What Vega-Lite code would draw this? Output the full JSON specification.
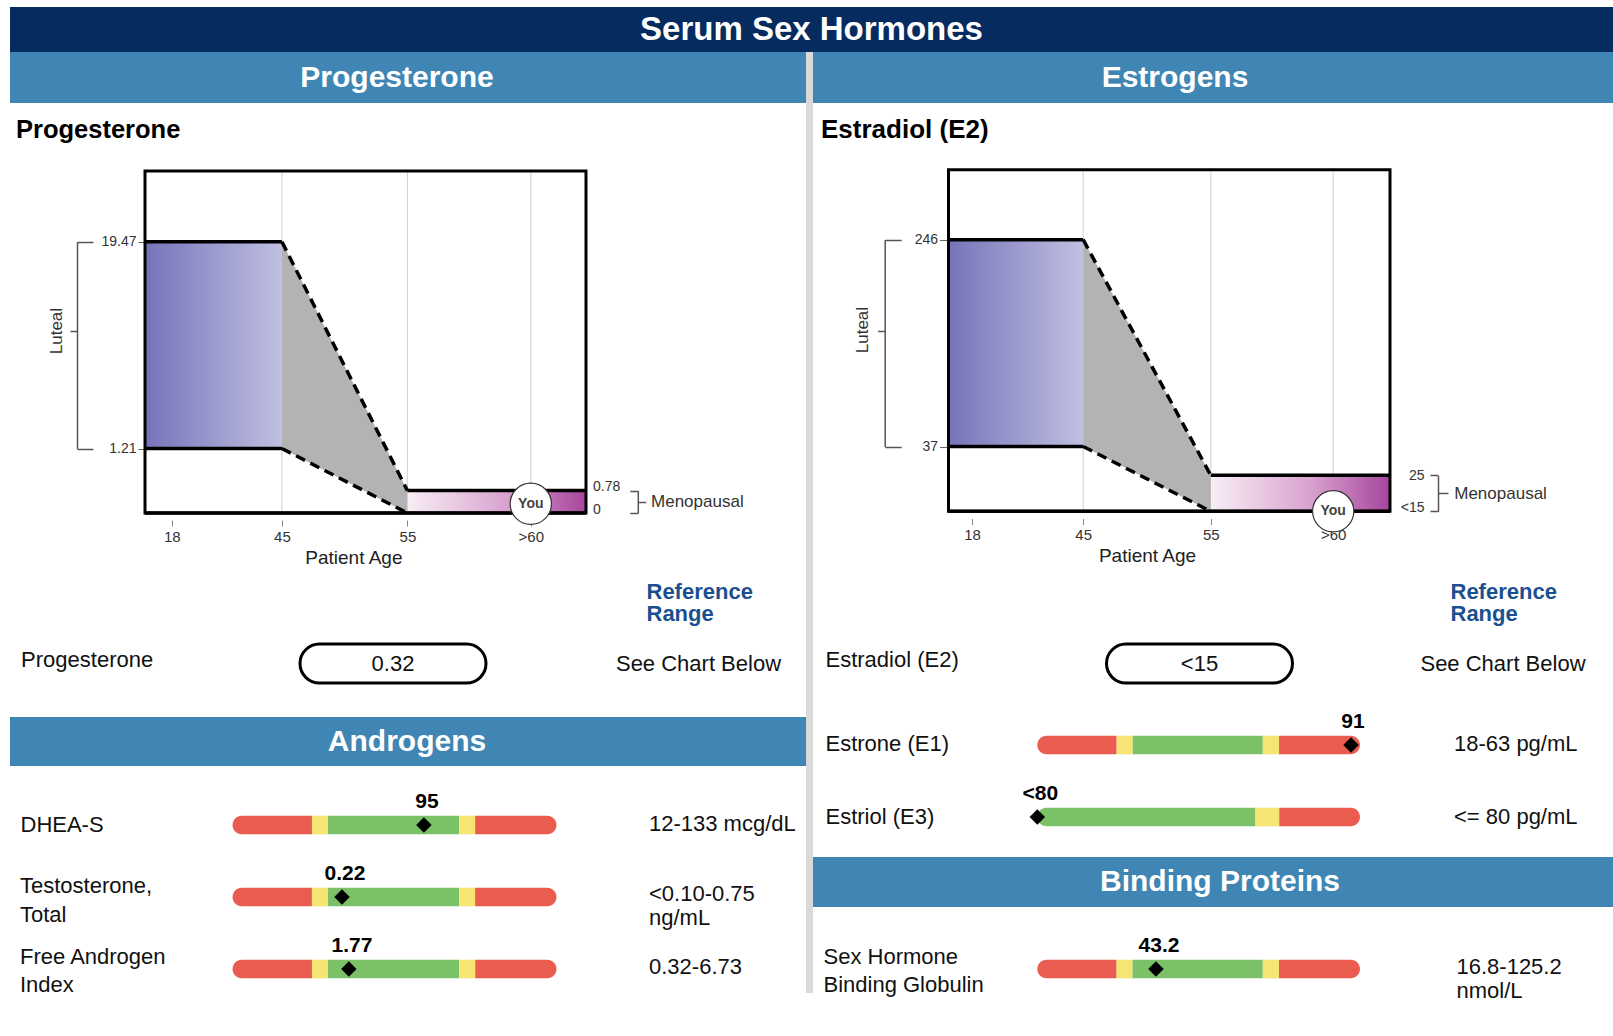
{
"$schema":"https://vega.github.io/schema/vega-lite/v6.json",
"background":"white",
"padding":{"left":10,"top":7,"right":0,"bottom":0},
"spacing":0,
"bounds":"flush",
"resolve":{"scale":{"x":"independent","y":"independent"}},
"config":{"view":{"stroke":null},"font":"Liberation Sans","text":{"font":"Liberation Sans"},"axis":{"labelFont":"Liberation Sans","titleFont":"Liberation Sans","grid":false},"title":{"font":"Liberation Sans"}},
"vconcat":[
{"width":1603,"height":45,"view":{"fill":"#062b5e","stroke":null},"data":{"values":[{"title":"Serum Sex Hormones"}]},"mark":{"type":"text","color":"#ffffff","fontSize":33,"fontWeight":"bold"},"encoding":{"text":{"field":"title"}}},
{"hconcat":[
{"vconcat":[
{"width":796,"height":51,"view":{"fill":"#3f86b4","stroke":null},"data":{"values":[{"section":"Progesterone"}]},"mark":{"type":"text","color":"#ffffff","fontSize":30,"fontWeight":"bold","dx":-11},"encoding":{"text":{"field":"section"}}},
{"width":796,"height":410,
"title":{"text":"Progesterone","anchor":"start","frame":"group","fontSize":25.5,"fontWeight":"bold","color":"#000000","baseline":"alphabetic","offset":-60.5,"dx":6},
"resolve":{"scale":{"y":"independent"},"axis":{"y":"independent"}},
"encoding":{"x":{"field":"age","type":"quantitative","scale":{"domain":[12,18,45,55,60,62.5],"range":[135,161.8,271.9,397.4,520.8,576],"zero":false,"nice":false},"axis":{"orient":"bottom","values":[18,45,55,60],"format":".4~g","labelExpr":"datum.value == 60 ? '>60' : datum.label","offset":7,"ticks":true,"tickSize":6,"tickColor":"#888888","labelPadding":3,"labelFontSize":15,"labelColor":"#333333","labelFlush":false,"labelOverlap":false,"domain":false,"grid":false,"title":"Patient Age","titleFontSize":19,"titleFontWeight":"normal","titleColor":"#222222","titlePadding":4,"titleX":343.4}}},
"layer":[
{"encoding":{
"y":{"field":"level","type":"quantitative","scale":{"domain":[0,0.78,1.21,19.47,25.7],"range":[410,387.6,345.5,138.7,68],"zero":false,"nice":false},"axis":{"orient":"left","offset":-135,"values":[1.21,19.47],"format":".4~g","ticks":true,"tickSize":7,"tickColor":"#666666","labelPadding":2,"labelFontSize":14,"labelColor":"#333333","labelFlush":false,"labelOverlap":false,"domain":false,"grid":false,"title":null}}},
"layer":[
{"data":{"values":[{"age":45,"level":0,"level2":25.7},{"age":55,"level":0,"level2":25.7},{"age":60,"level":0,"level2":25.7}]},"mark":{"type":"rule","color":"#d0d0d0","strokeWidth":1},"encoding":{"y2":{"field":"level2"}}},
{"data":{"values":[{"phase":"Luteal","age":12,"age2":45,"level":1.21,"level2":19.47}]},"mark":{"type":"rect","fill":{"gradient":"linear","x1":0,"y1":0,"x2":1,"y2":0,"stops":[{"offset":0,"color":"#7674b9"},{"offset":1,"color":"#c0c0e1"}]},"stroke":null},"encoding":{"x2":{"field":"age2"},"y2":{"field":"level2"}}},
{"data":{"values":[{"phase":"Menopausal","age":55,"age2":62.5,"level":0,"level2":0.78}]},"mark":{"type":"rect","fill":{"gradient":"linear","x1":0,"y1":0,"x2":1,"y2":0,"stops":[{"offset":0,"color":"#f8eef5"},{"offset":0.55,"color":"#d9a3cf"},{"offset":1,"color":"#a6459c"}]},"stroke":null},"encoding":{"x2":{"field":"age2"},"y2":{"field":"level2"}}},
{"data":{"values":[{"age":45,"level":19.47,"level2":1.21},{"age":55,"level":0.78,"level2":0}]},"mark":{"type":"area","color":"#b3b3b3","opacity":1},"encoding":{"y2":{"field":"level2"}}},
{"data":{"values":[{"age":12,"age2":62.5,"level":0,"level2":25.7}]},"mark":{"type":"rect","filled":false,"stroke":"#000000","strokeWidth":3},"encoding":{"x2":{"field":"age2"},"y2":{"field":"level2"}}},
{"data":{"values":[
{"edge":"luteal upper","kind":"phase limit","age":12,"level":19.47},{"edge":"luteal upper","kind":"phase limit","age":45,"level":19.47},
{"edge":"luteal lower","kind":"phase limit","age":12,"level":1.21},{"edge":"luteal lower","kind":"phase limit","age":45,"level":1.21},
{"edge":"transition upper","kind":"transition","age":45,"level":19.47},{"edge":"transition upper","kind":"transition","age":55,"level":0.78},
{"edge":"transition lower","kind":"transition","age":45,"level":1.21},{"edge":"transition lower","kind":"transition","age":55,"level":0},
{"edge":"menopausal upper","kind":"phase limit","age":55,"level":0.78},{"edge":"menopausal upper","kind":"phase limit","age":62.5,"level":0.78},
{"edge":"baseline","kind":"phase limit","age":12,"level":0},{"edge":"baseline","kind":"phase limit","age":62.5,"level":0}]},
"mark":{"type":"line","color":"#000000","strokeWidth":3.5},"encoding":{"detail":{"field":"edge"},"strokeDash":{"field":"kind","type":"nominal","scale":{"domain":["phase limit","transition"],"range":[[1,0],[10,6]]},"legend":null}}},
{"data":{"values":[{"age":60,"level":0.32,"label":"You"}]},"mark":{"type":"point","shape":"circle","filled":true,"fill":"#ffffff","stroke":"#333333","strokeWidth":1.2,"size":1700,"opacity":1}},
{"data":{"values":[{"age":60,"level":0.32,"label":"You"}]},"mark":{"type":"text","fontSize":14,"fontWeight":"bold","color":"#444444"},"encoding":{"text":{"field":"label"}}}
]},
{"data":{"values":[{"age":60,"level":0},{"age":60,"level":0.78}]},"mark":{"type":"point","opacity":0},"encoding":{"y":{"field":"level","type":"quantitative","scale":{"domain":[0,0.78,1.21,19.47,25.7],"range":[410,387.6,345.5,138.7,68],"zero":false,"nice":false},"axis":{"orient":"right","offset":-220,"values":[0,0.78],"format":".4~g","ticks":false,"tickSize":0,"domain":false,"grid":false,"labelPadding":6.5,"labelAlign":"left","labelBaseline":"alphabetic","labelFontSize":14,"labelColor":"#333333","labelFlush":false,"labelOverlap":false,"title":null}}}},
{"data":{"values":[{"age":60,"level":1.21},{"age":60,"level":19.47}]},"mark":{"type":"point","opacity":0},"encoding":{"y":{"field":"level","type":"quantitative","scale":{"domain":[1.21,19.47],"range":[345.5,138.7],"zero":false,"nice":false},"axis":{"orient":"left","offset":-67,"values":[1.21,19.47],"labels":false,"domain":true,"domainColor":"#555555","domainWidth":1.5,"ticks":true,"tickSize":-16,"tickWidth":1.5,"tickColor":"#555555","grid":false,"title":"Luteal","titleFontSize":17,"titleFontWeight":"normal","titleColor":"#333333","titlePadding":11,"titleY":227.6}}}},
{"data":{"values":[{"age":60,"level":11.6}]},"mark":{"type":"point","opacity":0},"encoding":{"y":{"field":"level","type":"quantitative","scale":{"domain":[1.21,19.47],"range":[345.5,138.7],"zero":false,"nice":false},"axis":{"orient":"left","offset":-67,"values":[11.6],"labels":false,"domain":false,"ticks":true,"tickSize":7,"tickWidth":1.5,"tickColor":"#555555","grid":false,"title":null}}}},
{"data":{"values":[{"age":60,"level":0},{"age":60,"level":0.78}]},"mark":{"type":"point","opacity":0},"encoding":{"y":{"field":"level","type":"quantitative","scale":{"domain":[0,0.78],"range":[410,387.6],"zero":false,"nice":false},"axis":{"orient":"right","offset":-168.2,"values":[0,0.78],"labels":false,"domain":true,"domainColor":"#555555","domainWidth":1.5,"ticks":true,"tickSize":-8,"tickWidth":1.5,"tickColor":"#555555","grid":false,"title":"Menopausal","titleAngle":0,"titleAlign":"left","titleBaseline":"middle","titlePadding":12,"titleFontSize":17,"titleFontWeight":"normal","titleColor":"#333333"}}}},
{"data":{"values":[{"age":60,"level":0.39}]},"mark":{"type":"point","opacity":0},"encoding":{"y":{"field":"level","type":"quantitative","scale":{"domain":[0,0.78],"range":[410,387.6],"zero":false,"nice":false},"axis":{"orient":"right","offset":-168.2,"values":[0.39],"labels":false,"domain":false,"ticks":true,"tickSize":8,"tickWidth":1.5,"tickColor":"#555555","grid":false,"title":null}}}}
]},
{"width":796,"height":204,
"data":{"values":[{"test":"Progesterone","column":"Result","text":"0.32"},{"test":"Progesterone","column":"Reference Range","text":"See Chart Below"}]},
"encoding":{
"x":{"field":"column","type":"nominal","scale":{"type":"point","domain":["Result","Reference Range"],"range":[383,688.5],"padding":0},"axis":{"orient":"top","labelExpr":"datum.value == 'Reference Range' ? ['Reference', 'Range'] : ''","labelAngle":0,"labelAlign":"left","labelOffset":-52.5,"labelBaseline":"middle","labelPadding":-78,"ticks":false,"tickSize":0,"domain":false,"grid":false,"title":null,"labelFontSize":22,"labelFontWeight":"bold","labelColor":"#1c4f8f","labelLineHeight":22,"labelLimit":0,"labelOverlap":false}},
"y":{"field":"test","type":"nominal","scale":{"type":"point","align":0.738},"axis":{"orient":"left","labelAlign":"left","labelPadding":-10.6,"ticks":false,"tickSize":0,"domain":false,"grid":false,"title":null,"labelFontSize":22,"labelColor":"#111111","labelLimit":0,"labelBaseline":"middle","labelOffset":-4}}},
"layer":[
{"transform":[{"filter":"datum.column == 'Result'"}],"mark":{"type":"point","shape":"M -0.7903 -0.2097 L 0.7903 -0.2097 A 0.2097 0.2097 0 0 1 0.7903 0.2097 L -0.7903 0.2097 A 0.2097 0.2097 0 0 1 -0.7903 -0.2097 Z","size":34596,"filled":false,"stroke":"#000000","strokeWidth":3,"opacity":1}},
{"mark":{"type":"text","fontSize":22,"color":"#111111"},"encoding":{"text":{"field":"text"}}}
]},
{"width":796,"height":49,"view":{"fill":"#3f86b4","stroke":null},"data":{"values":[{"section":"Androgens"}]},"mark":{"type":"text","color":"#ffffff","fontSize":30,"fontWeight":"bold","dx":-1},"encoding":{"text":{"field":"section"}}},
{"width":796,"height":95,"resolve":{"scale":{"y":"independent"},"axis":{"y":"independent"}},
"layer":[
{"data":{"values":[{"test":"DHEA-S","zone":"out of range","from":-46.9,"to":12},{"test":"DHEA-S","zone":"borderline","from":12,"to":23.9},{"test":"DHEA-S","zone":"in range","from":23.9,"to":121.1},{"test":"DHEA-S","zone":"borderline","from":121.1,"to":133},{"test":"DHEA-S","zone":"out of range","from":133,"to":193.3}]},
"transform":[{"joinaggregate":[{"op":"min","field":"from","as":"lo"},{"op":"max","field":"to","as":"hi"}]}],
"encoding":{"x":{"field":"from","type":"quantitative","scale":{"domain":[-46.9,193.3],"range":[222.5,546.5],"clamp":true,"zero":false,"nice":false},"axis":null},"x2":{"field":"to"},
"y":{"field":"test","type":"nominal","scale":{"type":"point","align":0.621},"axis":{"orient":"left","labelAlign":"left","labelPadding":-10,"ticks":false,"tickSize":0,"domain":false,"grid":false,"title":null,"labelFontSize":22,"labelColor":"#111111","labelLimit":0,"labelExpr":"split(datum.label, '\\n')","labelLineHeight":28,"labelBaseline":"middle"}},
"color":{"field":"zone","type":"nominal","scale":{"domain":["out of range","borderline","in range"],"range":["#ea5c50","#f6e473","#7bc168"]},"legend":null}},
"layer":[
{"transform":[{"filter":"datum.from > datum.lo && datum.to < datum.hi"}],"mark":{"type":"bar","orient":"horizontal","size":18.6}},
{"transform":[{"filter":"datum.from == datum.lo"}],"mark":{"type":"bar","orient":"horizontal","size":18.6,"cornerRadiusTopLeft":9.3,"cornerRadiusBottomLeft":9.3}},
{"transform":[{"filter":"datum.to == datum.hi"}],"mark":{"type":"bar","orient":"horizontal","size":18.6,"cornerRadiusTopRight":9.3,"cornerRadiusBottomRight":9.3}}
]},
{"data":{"values":[{"test":"DHEA-S","value":95,"label":"95"}]},
"encoding":{"x":{"field":"value","type":"quantitative","scale":{"domain":[-46.9,193.3],"range":[222.5,546.5],"clamp":true,"zero":false,"nice":false},"axis":null},"y":{"field":"test","type":"nominal","scale":{"type":"point","align":0.621},"axis":null}},
"layer":[
{"mark":{"type":"point","shape":"diamond","filled":true,"color":"#000000","size":240,"opacity":1}},
{"mark":{"type":"text","fontSize":21,"fontWeight":"bold","color":"#000000","baseline":"alphabetic","dy":-16.7,"dx":3},"encoding":{"text":{"field":"label"}}}
]},
{"data":{"values":[{"test":"DHEA-S","value":95,"reference":"12-133 mcg/dL"}]},"mark":{"type":"point","opacity":0},
"encoding":{"x":{"field":"value","type":"quantitative","scale":{"domain":[-46.9,193.3],"range":[222.5,546.5],"clamp":true,"zero":false,"nice":false},"axis":null},"y":{"field":"reference","type":"nominal","scale":{"type":"point","align":0.621},"axis":{"orient":"right","labelAlign":"left","labelPadding":-157.5,"ticks":false,"tickSize":0,"domain":false,"grid":false,"title":null,"labelFontSize":22,"labelColor":"#111111","labelLimit":0,"labelExpr":"split(datum.label, '\\n')","labelLineHeight":24.7,"labelBaseline":"middle","labelOffset":-1}}}}
]},
{"width":796,"height":72,"resolve":{"scale":{"y":"independent"},"axis":{"y":"independent"}},
"layer":[
{"data":{"values":[{"test":"Testosterone,\nTotal","zone":"out of range","from":-0.216,"to":0.10},{"test":"Testosterone,\nTotal","zone":"borderline","from":0.10,"to":0.164},{"test":"Testosterone,\nTotal","zone":"in range","from":0.164,"to":0.686},{"test":"Testosterone,\nTotal","zone":"borderline","from":0.686,"to":0.75},{"test":"Testosterone,\nTotal","zone":"out of range","from":0.75,"to":1.074}]},
"transform":[{"joinaggregate":[{"op":"min","field":"from","as":"lo"},{"op":"max","field":"to","as":"hi"}]}],
"encoding":{"x":{"field":"from","type":"quantitative","scale":{"domain":[-0.216,1.074],"range":[222.5,546.5],"clamp":true,"zero":false,"nice":false},"axis":null},"x2":{"field":"to"},
"y":{"field":"test","type":"nominal","scale":{"type":"point","align":0.5},"axis":{"orient":"left","labelAlign":"left","labelPadding":-9.5,"ticks":false,"tickSize":0,"domain":false,"grid":false,"title":null,"labelFontSize":22,"labelColor":"#111111","labelLimit":0,"labelExpr":"split(datum.label, '\\n')","labelLineHeight":28.5,"labelBaseline":"middle","labelOffset":-11.5}},
"color":{"field":"zone","type":"nominal","scale":{"domain":["out of range","borderline","in range"],"range":["#ea5c50","#f6e473","#7bc168"]},"legend":null}},
"layer":[
{"transform":[{"filter":"datum.from > datum.lo && datum.to < datum.hi"}],"mark":{"type":"bar","orient":"horizontal","size":18.6}},
{"transform":[{"filter":"datum.from == datum.lo"}],"mark":{"type":"bar","orient":"horizontal","size":18.6,"cornerRadiusTopLeft":9.3,"cornerRadiusBottomLeft":9.3}},
{"transform":[{"filter":"datum.to == datum.hi"}],"mark":{"type":"bar","orient":"horizontal","size":18.6,"cornerRadiusTopRight":9.3,"cornerRadiusBottomRight":9.3}}
]},
{"data":{"values":[{"test":"Testosterone,\nTotal","value":0.22,"label":"0.22"}]},
"encoding":{"x":{"field":"value","type":"quantitative","scale":{"domain":[-0.216,1.074],"range":[222.5,546.5],"clamp":true,"zero":false,"nice":false},"axis":null},"y":{"field":"test","type":"nominal","scale":{"type":"point","align":0.5},"axis":null}},
"layer":[
{"mark":{"type":"point","shape":"diamond","filled":true,"color":"#000000","size":240,"opacity":1}},
{"mark":{"type":"text","fontSize":21,"fontWeight":"bold","color":"#000000","baseline":"alphabetic","dy":-16.7,"dx":3},"encoding":{"text":{"field":"label"}}}
]},
{"data":{"values":[{"test":"Testosterone,\nTotal","value":0.22,"reference":"<0.10-0.75\nng/mL"}]},"mark":{"type":"point","opacity":0},
"encoding":{"x":{"field":"value","type":"quantitative","scale":{"domain":[-0.216,1.074],"range":[222.5,546.5],"clamp":true,"zero":false,"nice":false},"axis":null},"y":{"field":"reference","type":"nominal","scale":{"type":"point","align":0.5},"axis":{"orient":"right","labelAlign":"left","labelPadding":-157.5,"ticks":false,"tickSize":0,"domain":false,"grid":false,"title":null,"labelFontSize":22,"labelColor":"#111111","labelLimit":0,"labelExpr":"split(datum.label, '\\n')","labelLineHeight":24.7,"labelBaseline":"middle","labelOffset":-4}}}}
]},
{"width":796,"height":72,"resolve":{"scale":{"y":"independent"},"axis":{"y":"independent"}},
"layer":[
{"data":{"values":[{"test":"Free Androgen\nIndex","zone":"out of range","from":-2.80,"to":0.32},{"test":"Free Androgen\nIndex","zone":"borderline","from":0.32,"to":0.949},{"test":"Free Androgen\nIndex","zone":"in range","from":0.949,"to":6.10},{"test":"Free Androgen\nIndex","zone":"borderline","from":6.10,"to":6.73},{"test":"Free Androgen\nIndex","zone":"out of range","from":6.73,"to":9.92}]},
"transform":[{"joinaggregate":[{"op":"min","field":"from","as":"lo"},{"op":"max","field":"to","as":"hi"}]}],
"encoding":{"x":{"field":"from","type":"quantitative","scale":{"domain":[-2.80,9.92],"range":[222.5,546.5],"clamp":true,"zero":false,"nice":false},"axis":null},"x2":{"field":"to"},
"y":{"field":"test","type":"nominal","scale":{"type":"point","align":0.5},"axis":{"orient":"left","labelAlign":"left","labelPadding":-9.5,"ticks":false,"tickSize":0,"domain":false,"grid":false,"title":null,"labelFontSize":22,"labelColor":"#111111","labelLimit":0,"labelExpr":"split(datum.label, '\\n')","labelLineHeight":28.5,"labelBaseline":"middle","labelOffset":-13}},
"color":{"field":"zone","type":"nominal","scale":{"domain":["out of range","borderline","in range"],"range":["#ea5c50","#f6e473","#7bc168"]},"legend":null}},
"layer":[
{"transform":[{"filter":"datum.from > datum.lo && datum.to < datum.hi"}],"mark":{"type":"bar","orient":"horizontal","size":18.6}},
{"transform":[{"filter":"datum.from == datum.lo"}],"mark":{"type":"bar","orient":"horizontal","size":18.6,"cornerRadiusTopLeft":9.3,"cornerRadiusBottomLeft":9.3}},
{"transform":[{"filter":"datum.to == datum.hi"}],"mark":{"type":"bar","orient":"horizontal","size":18.6,"cornerRadiusTopRight":9.3,"cornerRadiusBottomRight":9.3}}
]},
{"data":{"values":[{"test":"Free Androgen\nIndex","value":1.77,"label":"1.77"}]},
"encoding":{"x":{"field":"value","type":"quantitative","scale":{"domain":[-2.80,9.92],"range":[222.5,546.5],"clamp":true,"zero":false,"nice":false},"axis":null},"y":{"field":"test","type":"nominal","scale":{"type":"point","align":0.5},"axis":null}},
"layer":[
{"mark":{"type":"point","shape":"diamond","filled":true,"color":"#000000","size":240,"opacity":1}},
{"mark":{"type":"text","fontSize":21,"fontWeight":"bold","color":"#000000","baseline":"alphabetic","dy":-16.7,"dx":3},"encoding":{"text":{"field":"label"}}}
]},
{"data":{"values":[{"test":"Free Androgen\nIndex","value":1.77,"reference":"0.32-6.73"}]},"mark":{"type":"point","opacity":0},
"encoding":{"x":{"field":"value","type":"quantitative","scale":{"domain":[-2.80,9.92],"range":[222.5,546.5],"clamp":true,"zero":false,"nice":false},"axis":null},"y":{"field":"reference","type":"nominal","scale":{"type":"point","align":0.5},"axis":{"orient":"right","labelAlign":"left","labelPadding":-157.5,"ticks":false,"tickSize":0,"domain":false,"grid":false,"title":null,"labelFontSize":22,"labelColor":"#111111","labelLimit":0,"labelExpr":"split(datum.label, '\\n')","labelLineHeight":24.7,"labelBaseline":"middle","labelOffset":-3}}}}
]}
],"spacing":0,"bounds":"flush","resolve":{"scale":{"x":"independent","y":"independent"}}},
{"width":7,"height":941,"view":{"fill":"#dadada","stroke":null},"data":{"values":[{"part":"column divider"}]},"mark":{"type":"rect","color":"#dadada"},"encoding":{}},
{"vconcat":[
{"width":800,"height":51,"view":{"fill":"#3f86b4","stroke":null},"data":{"values":[{"section":"Estrogens"}]},"mark":{"type":"text","color":"#ffffff","fontSize":30,"fontWeight":"bold","dx":-38},"encoding":{"text":{"field":"section"}}},
{"width":800,"height":410,
"title":{"text":"Estradiol (E2)","anchor":"start","frame":"group","fontSize":26,"fontWeight":"bold","color":"#000000","baseline":"alphabetic","offset":-60.5,"dx":8},
"resolve":{"scale":{"y":"independent"},"axis":{"y":"independent"}},
"encoding":{"x":{"field":"age","type":"quantitative","scale":{"domain":[12,18,45,55,60,62.5],"range":[135.5,159.1,270.2,397.8,520.2,577],"zero":false,"nice":false},"axis":{"orient":"bottom","values":[18,45,55,60],"format":".4~g","labelExpr":"datum.value == 60 ? '>60' : datum.label","offset":5.5,"ticks":true,"tickSize":6,"tickColor":"#888888","labelPadding":3,"labelFontSize":15,"labelColor":"#333333","labelFlush":false,"labelOverlap":false,"domain":false,"grid":false,"title":"Patient Age","titleFontSize":19,"titleFontWeight":"normal","titleColor":"#222222","titlePadding":4,"titleX":334}}},
"layer":[
{"encoding":{
"y":{"field":"level","type":"quantitative","scale":{"domain":[15,25,37,246,317],"range":[408.3,372.3,343.5,136.7,66.7],"zero":false,"nice":false},"axis":{"orient":"left","offset":-135.5,"values":[37,246],"format":".4~g","ticks":true,"tickSize":9,"tickColor":"#666666","labelPadding":2,"labelFontSize":14,"labelColor":"#333333","labelFlush":false,"labelOverlap":false,"domain":false,"grid":false,"title":null}}},
"layer":[
{"data":{"values":[{"age":45,"level":15,"level2":317},{"age":55,"level":15,"level2":317},{"age":60,"level":15,"level2":317}]},"mark":{"type":"rule","color":"#d0d0d0","strokeWidth":1},"encoding":{"y2":{"field":"level2"}}},
{"data":{"values":[{"phase":"Luteal","age":12,"age2":45,"level":37,"level2":246}]},"mark":{"type":"rect","fill":{"gradient":"linear","x1":0,"y1":0,"x2":1,"y2":0,"stops":[{"offset":0,"color":"#7674b9"},{"offset":1,"color":"#c0c0e1"}]},"stroke":null},"encoding":{"x2":{"field":"age2"},"y2":{"field":"level2"}}},
{"data":{"values":[{"phase":"Menopausal","age":55,"age2":62.5,"level":15,"level2":25}]},"mark":{"type":"rect","fill":{"gradient":"linear","x1":0,"y1":0,"x2":1,"y2":0,"stops":[{"offset":0,"color":"#f8eef5"},{"offset":0.55,"color":"#d9a3cf"},{"offset":1,"color":"#a6459c"}]},"stroke":null},"encoding":{"x2":{"field":"age2"},"y2":{"field":"level2"}}},
{"data":{"values":[{"age":45,"level":246,"level2":37},{"age":55,"level":25,"level2":15}]},"mark":{"type":"area","color":"#b3b3b3","opacity":1},"encoding":{"y2":{"field":"level2"}}},
{"data":{"values":[{"age":12,"age2":62.5,"level":15,"level2":317}]},"mark":{"type":"rect","filled":false,"stroke":"#000000","strokeWidth":3},"encoding":{"x2":{"field":"age2"},"y2":{"field":"level2"}}},
{"data":{"values":[
{"edge":"luteal upper","kind":"phase limit","age":12,"level":246},{"edge":"luteal upper","kind":"phase limit","age":45,"level":246},
{"edge":"luteal lower","kind":"phase limit","age":12,"level":37},{"edge":"luteal lower","kind":"phase limit","age":45,"level":37},
{"edge":"transition upper","kind":"transition","age":45,"level":246},{"edge":"transition upper","kind":"transition","age":55,"level":25},
{"edge":"transition lower","kind":"transition","age":45,"level":37},{"edge":"transition lower","kind":"transition","age":55,"level":15},
{"edge":"menopausal upper","kind":"phase limit","age":55,"level":25},{"edge":"menopausal upper","kind":"phase limit","age":62.5,"level":25},
{"edge":"baseline","kind":"phase limit","age":12,"level":15},{"edge":"baseline","kind":"phase limit","age":62.5,"level":15}]},
"mark":{"type":"line","color":"#000000","strokeWidth":3.5},"encoding":{"detail":{"field":"edge"},"strokeDash":{"field":"kind","type":"nominal","scale":{"domain":["phase limit","transition"],"range":[[1,0],[10,6]]},"legend":null}}},
{"data":{"values":[{"age":60,"level":15,"label":"You"}]},"mark":{"type":"point","shape":"circle","filled":true,"fill":"#ffffff","stroke":"#333333","strokeWidth":1.2,"size":1700,"opacity":1}},
{"data":{"values":[{"age":60,"level":15,"label":"You"}]},"mark":{"type":"text","fontSize":14,"fontWeight":"bold","color":"#444444"},"encoding":{"text":{"field":"label"}}}
]},
{"data":{"values":[{"age":60,"level":15},{"age":60,"level":25}]},"mark":{"type":"point","opacity":0},"encoding":{"y":{"field":"level","type":"quantitative","scale":{"domain":[15,25,37,246,317],"range":[408.3,372.3,343.5,136.7,66.7],"zero":false,"nice":false},"axis":{"orient":"right","offset":-223,"values":[15,25],"format":".4~g","labelExpr":"datum.value == 15 ? '<15' : datum.label","ticks":false,"tickSize":0,"domain":false,"grid":false,"labelPadding":34,"labelAlign":"right","labelBaseline":"middle","labelOffset":{"condition":{"test":"datum.value == 15","value":-4},"value":0},"labelFontSize":14,"labelColor":"#333333","labelFlush":false,"labelOverlap":false,"title":null}}}},
{"data":{"values":[{"age":60,"level":37},{"age":60,"level":246}]},"mark":{"type":"point","opacity":0},"encoding":{"y":{"field":"level","type":"quantitative","scale":{"domain":[37,246],"range":[343.5,136.7],"zero":false,"nice":false},"axis":{"orient":"left","offset":-71.7,"values":[37,246],"labels":false,"domain":true,"domainColor":"#555555","domainWidth":1.5,"ticks":true,"tickSize":-16.5,"tickWidth":1.5,"tickColor":"#555555","grid":false,"title":"Luteal","titleFontSize":17,"titleFontWeight":"normal","titleColor":"#333333","titlePadding":12,"titleY":226.6}}}},
{"data":{"values":[{"age":60,"level":153.6}]},"mark":{"type":"point","opacity":0},"encoding":{"y":{"field":"level","type":"quantitative","scale":{"domain":[37,246],"range":[343.5,136.7],"zero":false,"nice":false},"axis":{"orient":"left","offset":-71.7,"values":[153.6],"labels":false,"domain":false,"ticks":true,"tickSize":7,"tickWidth":1.5,"tickColor":"#555555","grid":false,"title":null}}}},
{"data":{"values":[{"age":60,"level":15},{"age":60,"level":25}]},"mark":{"type":"point","opacity":0},"encoding":{"y":{"field":"level","type":"quantitative","scale":{"domain":[15,25],"range":[408.3,372.3],"zero":false,"nice":false},"axis":{"orient":"right","offset":-175,"values":[15,25],"labels":false,"domain":true,"domainColor":"#555555","domainWidth":1.5,"ticks":true,"tickSize":-8,"tickWidth":1.5,"tickColor":"#555555","grid":false,"title":"Menopausal","titleAngle":0,"titleAlign":"left","titleBaseline":"middle","titlePadding":15,"titleFontSize":17,"titleFontWeight":"normal","titleColor":"#333333"}}}},
{"data":{"values":[{"age":60,"level":20}]},"mark":{"type":"point","opacity":0},"encoding":{"y":{"field":"level","type":"quantitative","scale":{"domain":[15,25],"range":[408.3,372.3],"zero":false,"nice":false},"axis":{"orient":"right","offset":-175,"values":[20],"labels":false,"domain":false,"ticks":true,"tickSize":10,"tickWidth":1.5,"tickColor":"#555555","grid":false,"title":null}}}}
]},
{"width":800,"height":196,
"data":{"values":[{"test":"Estradiol (E2)","column":"Result","text":"<15"},{"test":"Estradiol (E2)","column":"Reference Range","text":"See Chart Below"}]},
"encoding":{
"x":{"field":"column","type":"nominal","scale":{"type":"point","domain":["Result","Reference Range"],"range":[386.5,690],"padding":0},"axis":{"orient":"top","labelExpr":"datum.value == 'Reference Range' ? ['Reference', 'Range'] : ''","labelAngle":0,"labelAlign":"left","labelOffset":-53,"labelBaseline":"middle","labelPadding":-78,"ticks":false,"tickSize":0,"domain":false,"grid":false,"title":null,"labelFontSize":22,"labelFontWeight":"bold","labelColor":"#1c4f8f","labelLineHeight":22,"labelLimit":0,"labelOverlap":false}},
"y":{"field":"test","type":"nominal","scale":{"type":"point","align":0.768},"axis":{"orient":"left","labelAlign":"left","labelPadding":-12,"ticks":false,"tickSize":0,"domain":false,"grid":false,"title":null,"labelFontSize":22,"labelColor":"#111111","labelLimit":0,"labelBaseline":"middle","labelOffset":-4}}},
"layer":[
{"transform":[{"filter":"datum.column == 'Result'"}],"mark":{"type":"point","shape":"M -0.7903 -0.2097 L 0.7903 -0.2097 A 0.2097 0.2097 0 0 1 0.7903 0.2097 L -0.7903 0.2097 A 0.2097 0.2097 0 0 1 -0.7903 -0.2097 Z","size":34596,"filled":false,"stroke":"#000000","strokeWidth":3,"opacity":1}},
{"mark":{"type":"text","fontSize":22,"color":"#111111"},"encoding":{"text":{"field":"text"}}}
]},
{"width":800,"height":72,"resolve":{"scale":{"y":"independent"},"axis":{"y":"independent"}},
"layer":[
{"data":{"values":[{"test":"Estrone (E1)","zone":"out of range","from":-3.9,"to":18},{"test":"Estrone (E1)","zone":"borderline","from":18,"to":22.5},{"test":"Estrone (E1)","zone":"in range","from":22.5,"to":58.5},{"test":"Estrone (E1)","zone":"borderline","from":58.5,"to":63},{"test":"Estrone (E1)","zone":"out of range","from":63,"to":85.4}]},
"transform":[{"joinaggregate":[{"op":"min","field":"from","as":"lo"},{"op":"max","field":"to","as":"hi"}]}],
"encoding":{"x":{"field":"from","type":"quantitative","scale":{"domain":[-3.9,85.4],"range":[224.3,547],"clamp":true,"zero":false,"nice":false},"axis":null},"x2":{"field":"to"},
"y":{"field":"test","type":"nominal","scale":{"type":"point","align":0.5},"axis":{"orient":"left","labelAlign":"left","labelPadding":-12,"ticks":false,"tickSize":0,"domain":false,"grid":false,"title":null,"labelFontSize":22,"labelColor":"#111111","labelLimit":0,"labelExpr":"split(datum.label, '\\n')","labelLineHeight":28,"labelBaseline":"middle","labelOffset":-2}},
"color":{"field":"zone","type":"nominal","scale":{"domain":["out of range","borderline","in range"],"range":["#ea5c50","#f6e473","#7bc168"]},"legend":null}},
"layer":[
{"transform":[{"filter":"datum.from > datum.lo && datum.to < datum.hi"}],"mark":{"type":"bar","orient":"horizontal","size":18.6}},
{"transform":[{"filter":"datum.from == datum.lo"}],"mark":{"type":"bar","orient":"horizontal","size":18.6,"cornerRadiusTopLeft":9.3,"cornerRadiusBottomLeft":9.3}},
{"transform":[{"filter":"datum.to == datum.hi"}],"mark":{"type":"bar","orient":"horizontal","size":18.6,"cornerRadiusTopRight":9.3,"cornerRadiusBottomRight":9.3}}
]},
{"data":{"values":[{"test":"Estrone (E1)","value":91,"label":"91"}]},
"encoding":{"x":{"field":"value","type":"quantitative","scale":{"domain":[-3.9,85.4],"range":[224.3,547],"clamp":true,"zero":false,"nice":false},"axis":null},"y":{"field":"test","type":"nominal","scale":{"type":"point","align":0.5},"axis":null}},
"layer":[
{"mark":{"type":"point","shape":"diamond","filled":true,"color":"#000000","size":240,"opacity":1,"xOffset":-9}},
{"mark":{"type":"text","fontSize":21,"fontWeight":"bold","color":"#000000","baseline":"alphabetic","dy":-16.7,"dx":-7},"encoding":{"text":{"field":"label"}}}
]},
{"data":{"values":[{"test":"Estrone (E1)","value":91,"reference":"18-63 pg/mL"}]},"mark":{"type":"point","opacity":0},
"encoding":{"x":{"field":"value","type":"quantitative","scale":{"domain":[-3.9,85.4],"range":[224.3,547],"clamp":true,"zero":false,"nice":false},"axis":null},"y":{"field":"reference","type":"nominal","scale":{"type":"point","align":0.5},"axis":{"orient":"right","labelAlign":"left","labelPadding":-159.5,"ticks":false,"tickSize":0,"domain":false,"grid":false,"title":null,"labelFontSize":22,"labelColor":"#111111","labelLimit":0,"labelExpr":"split(datum.label, '\\n')","labelLineHeight":24.7,"labelBaseline":"middle","labelOffset":-2}}}}
]},
{"width":800,"height":76,"resolve":{"scale":{"y":"independent"},"axis":{"y":"independent"}},
"layer":[
{"data":{"values":[{"test":"Estriol (E3)","zone":"in range","from":0,"to":72},{"test":"Estriol (E3)","zone":"borderline","from":72,"to":80},{"test":"Estriol (E3)","zone":"out of range","from":80,"to":106.7}]},
"transform":[{"joinaggregate":[{"op":"min","field":"from","as":"lo"},{"op":"max","field":"to","as":"hi"}]}],
"encoding":{"x":{"field":"from","type":"quantitative","scale":{"domain":[0,106.7],"range":[224.3,547],"clamp":true,"zero":false,"nice":false},"axis":null},"x2":{"field":"to"},
"y":{"field":"test","type":"nominal","scale":{"type":"point","align":0.474},"axis":{"orient":"left","labelAlign":"left","labelPadding":-12,"ticks":false,"tickSize":0,"domain":false,"grid":false,"title":null,"labelFontSize":22,"labelColor":"#111111","labelLimit":0,"labelExpr":"split(datum.label, '\\n')","labelLineHeight":28,"labelBaseline":"middle","labelOffset":-1}},
"color":{"field":"zone","type":"nominal","scale":{"domain":["out of range","borderline","in range"],"range":["#ea5c50","#f6e473","#7bc168"]},"legend":null}},
"layer":[
{"transform":[{"filter":"datum.from > datum.lo && datum.to < datum.hi"}],"mark":{"type":"bar","orient":"horizontal","size":18.6}},
{"transform":[{"filter":"datum.from == datum.lo"}],"mark":{"type":"bar","orient":"horizontal","size":18.6,"cornerRadiusTopLeft":9.3,"cornerRadiusBottomLeft":9.3}},
{"transform":[{"filter":"datum.to == datum.hi"}],"mark":{"type":"bar","orient":"horizontal","size":18.6,"cornerRadiusTopRight":9.3,"cornerRadiusBottomRight":9.3}}
]},
{"data":{"values":[{"test":"Estriol (E3)","value":0,"label":"<80"}]},
"encoding":{"x":{"field":"value","type":"quantitative","scale":{"domain":[0,106.7],"range":[224.3,547],"clamp":true,"zero":false,"nice":false},"axis":null},"y":{"field":"test","type":"nominal","scale":{"type":"point","align":0.474},"axis":null}},
"layer":[
{"mark":{"type":"point","shape":"diamond","filled":true,"color":"#000000","size":240,"opacity":1}},
{"mark":{"type":"text","fontSize":21,"fontWeight":"bold","color":"#000000","baseline":"alphabetic","dy":-16.7,"dx":3},"encoding":{"text":{"field":"label"}}}
]},
{"data":{"values":[{"test":"Estriol (E3)","value":0,"reference":"<= 80 pg/mL"}]},"mark":{"type":"point","opacity":0},
"encoding":{"x":{"field":"value","type":"quantitative","scale":{"domain":[0,106.7],"range":[224.3,547],"clamp":true,"zero":false,"nice":false},"axis":null},"y":{"field":"reference","type":"nominal","scale":{"type":"point","align":0.474},"axis":{"orient":"right","labelAlign":"left","labelPadding":-159.5,"ticks":false,"tickSize":0,"domain":false,"grid":false,"title":null,"labelFontSize":22,"labelColor":"#111111","labelLimit":0,"labelExpr":"split(datum.label, '\\n')","labelLineHeight":24.7,"labelBaseline":"middle","labelOffset":-1}}}}
]},
{"width":800,"height":50,"view":{"fill":"#3f86b4","stroke":null},"data":{"values":[{"section":"Binding Proteins"}]},"mark":{"type":"text","color":"#ffffff","fontSize":30,"fontWeight":"bold","dx":7},"encoding":{"text":{"field":"section"}}},
{"width":800,"height":98,"resolve":{"scale":{"y":"independent"},"axis":{"y":"independent"}},
"layer":[
{"data":{"values":[{"test":"Sex Hormone\nBinding Globulin","zone":"out of range","from":-35.9,"to":16.8},{"test":"Sex Hormone\nBinding Globulin","zone":"borderline","from":16.8,"to":27.6},{"test":"Sex Hormone\nBinding Globulin","zone":"in range","from":27.6,"to":114.4},{"test":"Sex Hormone\nBinding Globulin","zone":"borderline","from":114.4,"to":125.2},{"test":"Sex Hormone\nBinding Globulin","zone":"out of range","from":125.2,"to":179.2}]},
"transform":[{"joinaggregate":[{"op":"min","field":"from","as":"lo"},{"op":"max","field":"to","as":"hi"}]}],
"encoding":{"x":{"field":"from","type":"quantitative","scale":{"domain":[-35.9,179.2],"range":[224.3,547],"clamp":true,"zero":false,"nice":false},"axis":null},"x2":{"field":"to"},
"y":{"field":"test","type":"nominal","scale":{"type":"point","align":0.633},"axis":{"orient":"left","labelAlign":"left","labelPadding":-10,"ticks":false,"tickSize":0,"domain":false,"grid":false,"title":null,"labelFontSize":22,"labelColor":"#111111","labelLimit":0,"labelExpr":"split(datum.label, '\\n')","labelLineHeight":28,"labelBaseline":"middle","labelOffset":-13}},
"color":{"field":"zone","type":"nominal","scale":{"domain":["out of range","borderline","in range"],"range":["#ea5c50","#f6e473","#7bc168"]},"legend":null}},
"layer":[
{"transform":[{"filter":"datum.from > datum.lo && datum.to < datum.hi"}],"mark":{"type":"bar","orient":"horizontal","size":18.6}},
{"transform":[{"filter":"datum.from == datum.lo"}],"mark":{"type":"bar","orient":"horizontal","size":18.6,"cornerRadiusTopLeft":9.3,"cornerRadiusBottomLeft":9.3}},
{"transform":[{"filter":"datum.to == datum.hi"}],"mark":{"type":"bar","orient":"horizontal","size":18.6,"cornerRadiusTopRight":9.3,"cornerRadiusBottomRight":9.3}}
]},
{"data":{"values":[{"test":"Sex Hormone\nBinding Globulin","value":43.2,"label":"43.2"}]},
"encoding":{"x":{"field":"value","type":"quantitative","scale":{"domain":[-35.9,179.2],"range":[224.3,547],"clamp":true,"zero":false,"nice":false},"axis":null},"y":{"field":"test","type":"nominal","scale":{"type":"point","align":0.633},"axis":null}},
"layer":[
{"mark":{"type":"point","shape":"diamond","filled":true,"color":"#000000","size":240,"opacity":1}},
{"mark":{"type":"text","fontSize":21,"fontWeight":"bold","color":"#000000","baseline":"alphabetic","dy":-16.7,"dx":3},"encoding":{"text":{"field":"label"}}}
]},
{"data":{"values":[{"test":"Sex Hormone\nBinding Globulin","value":43.2,"reference":"16.8-125.2\nnmol/L"}]},"mark":{"type":"point","opacity":0},
"encoding":{"x":{"field":"value","type":"quantitative","scale":{"domain":[-35.9,179.2],"range":[224.3,547],"clamp":true,"zero":false,"nice":false},"axis":null},"y":{"field":"reference","type":"nominal","scale":{"type":"point","align":0.633},"axis":{"orient":"right","labelAlign":"left","labelPadding":-157,"ticks":false,"tickSize":0,"domain":false,"grid":false,"title":null,"labelFontSize":22,"labelColor":"#111111","labelLimit":0,"labelExpr":"split(datum.label, '\\n')","labelLineHeight":24.7,"labelBaseline":"middle","labelOffset":-3}}}}
]}
],"spacing":0,"bounds":"flush","resolve":{"scale":{"x":"independent","y":"independent"}}}
],"spacing":0,"resolve":{"scale":{"x":"independent","y":"independent"}}}
]
}
